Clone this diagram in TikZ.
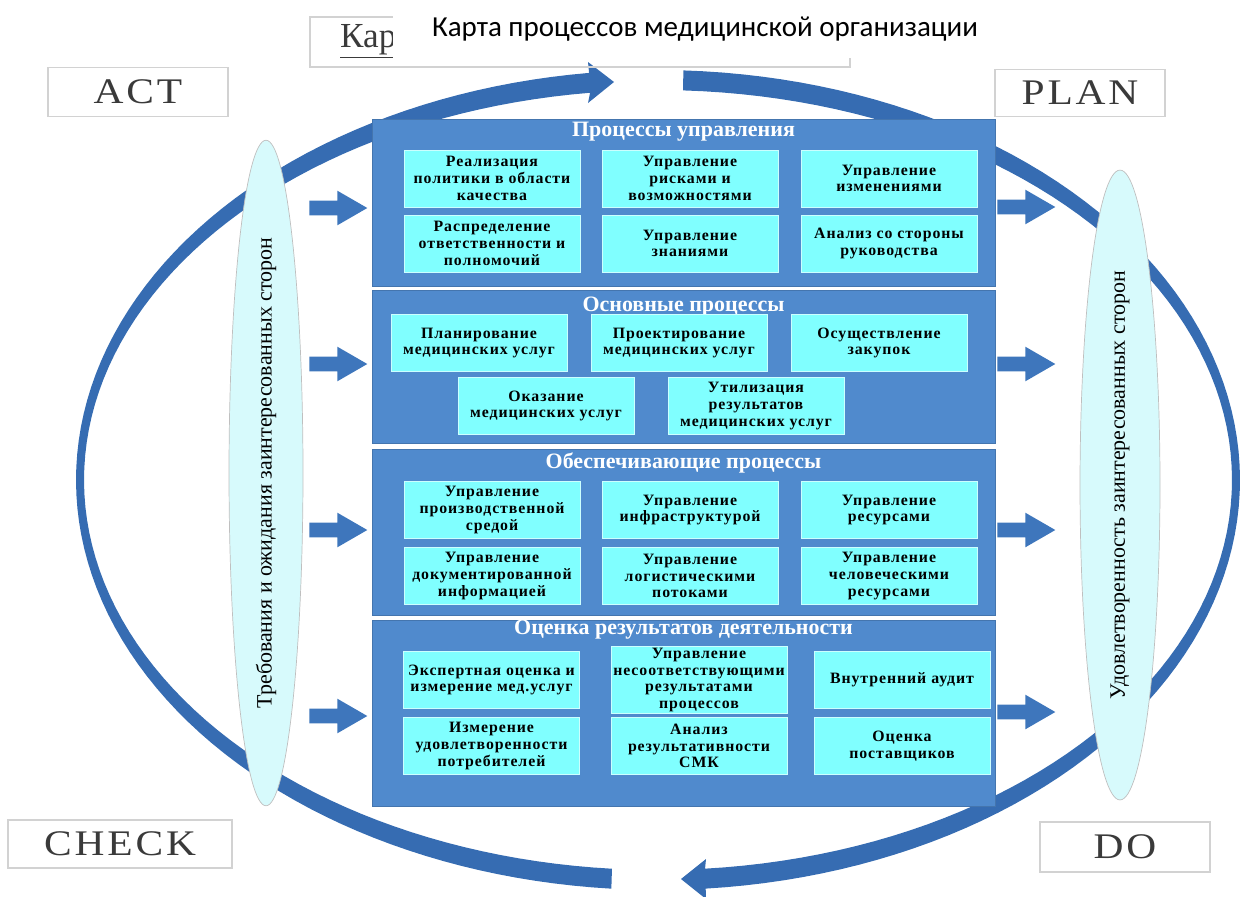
\documentclass[tikz,border=0pt]{standalone}
\usepackage{fontspec}
\setmainfont{Liberation Serif}
\newfontfamily\titlefont{Carlito}
\newfontfamily\pdcafont[FakeStretch=1.15,LetterSpace=8]{Liberation Serif}
\newfontfamily\boxfont[LetterSpace=6]{Liberation Serif}
\usetikzlibrary{
    shapes.geometric,
    shapes.arrows,
    positioning
}
\definecolor{ringblue}{RGB}{54,108,178}
\definecolor{panelblue}{RGB}{80,138,205}
\definecolor{arrowblue}{RGB}{62,118,188}
\definecolor{boxcyan}{RGB}{128,255,255}
\definecolor{ovalcyan}{RGB}{215,250,252}
\definecolor{pdcagray}{RGB}{58,58,58}

\begin{document}
\begin{tikzpicture}[x=0.02cm, y=-0.02cm,
        panel/.style={rectangle, fill=panelblue, draw=panelblue!85!black, line width=0.5pt, minimum width=12.46cm},
        ptitle/.style={text=white, inner sep=1pt, font=\fontsize{12.5}{14}\selectfont\bfseries},
        proc/.style={rectangle, fill=boxcyan, draw=white!60!boxcyan, minimum width=3.52cm, minimum height=1.14cm, align=center, inner sep=1pt, font=\boxfont\fontsize{9}{9.5}\selectfont\bfseries},
        oval/.style={ellipse, draw=gray!50, fill=ovalcyan, rotate=90, minimum width=12.6cm, inner sep=0pt, font=\fontsize{12.5}{14}\selectfont},
        pdca/.style={rectangle, draw=gray!35, line width=0.8pt, fill=white, text=pdcagray, font=\pdcafont\fontsize{20.5}{22}\selectfont},
        blockarrow/.style={single arrow, fill=arrowblue, inner xsep=0pt, inner ysep=0.14cm, single arrow head extend=0.2cm, single arrow tip angle=60, minimum height=1.16cm, anchor=tip}
    ]
    \useasboundingbox (0,0) rectangle (1240,896);

    % PDCA ring
    \fill[ringblue] plot[domain=94.6:263.2, samples=90] ({658+582*cos(\x)},{480+410*sin(\x)})
        -- (588,62) -- (614,82) -- (588,103)
        -- plot[domain=263.2:94.6, samples=90] ({658+574*cos(\x)},{480+390*sin(\x)}) -- cycle;
    \fill[ringblue] plot[domain=272.5:445.3, samples=90] ({658+582*cos(\x)},{480+410*sin(\x)})
        -- (706,899) -- (681,879) -- (706,859)
        -- plot[domain=445.3:272.5, samples=90] ({658+574*cos(\x)},{480+390*sin(\x)}) -- cycle;

    % process groups
    \node[panel, minimum height=3.34cm] (pnl1) at (683.5,202.5) {};
    \node[panel, minimum height=3.06cm] (pnl2) at (683.5,366.5) {};
    \node[panel, minimum height=3.32cm] (pnl3) at (683.5,532) {};
    \node[panel, minimum height=3.72cm] (pnl4) at (683.5,713) {};

    \node[ptitle, below=1pt of pnl1.north] (ttl1) {Процессы управления};
    \node[ptitle, below=3pt of pnl2.north] (ttl2) {Основные процессы};
    \node[ptitle, below=1pt of pnl3.north] (ttl3) {Обеспечивающие процессы};
    \node[ptitle, below=-1pt of pnl4.north] (ttl4) {Оценка результатов деятельности};

    \node[proc] (upr1) at (492,178.5) {Реализация\\политики в области\\качества};
    \node[proc] (upr2) at (690,178.5) {Управление\\рисками и\\возможностями};
    \node[proc] (upr3) at (889,178.5) {Управление\\изменениями};
    \node[proc] (upr4) at (492,243.5) {Распределение\\ответственности и\\полномочий};
    \node[proc] (upr5) at (690,243.5) {Управление\\знаниями};
    \node[proc] (upr6) at (889,243.5) {Анализ со стороны\\руководства};

    \node[proc] (osn1) at (479,343) {Планирование\\медицинских услуг};
    \node[proc] (osn2) at (679,343) {Проектирование\\медицинских услуг};
    \node[proc] (osn3) at (879,343) {Осуществление\\закупок};
    \node[proc] (osn4) at (546,406) {Оказание\\медицинских услуг};
    \node[proc] (osn5) at (756,406) {Утилизация\\результатов\\медицинских услуг};

    \node[proc] (obs1) at (492,510) {Управление\\производственной\\средой};
    \node[proc] (obs2) at (690,510) {Управление\\инфраструктурой};
    \node[proc] (obs3) at (889,510) {Управление\\ресурсами};
    \node[proc] (obs4) at (492,576) {Управление\\документированной\\информацией};
    \node[proc] (obs5) at (690,576) {Управление\\логистическими\\потоками};
    \node[proc] (obs6) at (889,576) {Управление\\человеческими\\ресурсами};

    \node[proc] (ocn1) at (491.5,680) {Экспертная оценка и\\измерение мед.услуг};
    \node[proc] (ocn2) at (699,680) {Управление\\несоответствующими\\результатами\\процессов};
    \node[proc] (ocn3) at (902,680) {Внутренний аудит};
    \node[proc] (ocn4) at (491.5,746) {Измерение\\удовлетворенности\\потребителей};
    \node[proc] (ocn5) at (699,746) {Анализ\\результативности\\СМК};
    \node[proc] (ocn6) at (902,746) {Оценка\\поставщиков};

    % stakeholders
    \node[oval, minimum height=1.48cm] (req) at (266,473) {Требования и ожидания заинтересованных сторон};
    \node[oval, minimum height=1.6cm] (sat) at (1120,485) {Удовлетворенность заинтересованных сторон};

    \foreach \y [count=\i] in {208,364,530,716}
        \node[blockarrow] (inarr\i) at (368,\y) {};
    \foreach \y [count=\i] in {207,364,530,712}
        \node[blockarrow] (outarr\i) at (1056,\y) {};

    \node[pdca, minimum width=3.6cm, minimum height=0.98cm] (act) at (138,92) {ACT};
    \node[pdca, minimum width=3.4cm, minimum height=0.94cm] (plan) at (1080,93) {PLAN};
    \node[pdca, minimum width=4.48cm, minimum height=0.96cm] (check) at (120,844) {CHECK};
    \node[pdca, minimum width=3.4cm, minimum height=1cm] (do) at (1125,847) {DO};

    % title
    \node[draw=gray!35, line width=0.8pt, minimum width=10.8cm, minimum height=1cm] (mapbox) at (580,42) {};
    \node[anchor=west, text=pdcagray, font=\fontsize{20}{22}\selectfont] (mapcut) at (334,41) {\underline{Кар}};
    \node[fill=white, minimum width=12.5cm, minimum height=1.16cm, font=\titlefont\fontsize{16.5}{20}\selectfont] (title) at (705,29) {Карта процессов медицинской организации};
\end{tikzpicture}
\end{document}
